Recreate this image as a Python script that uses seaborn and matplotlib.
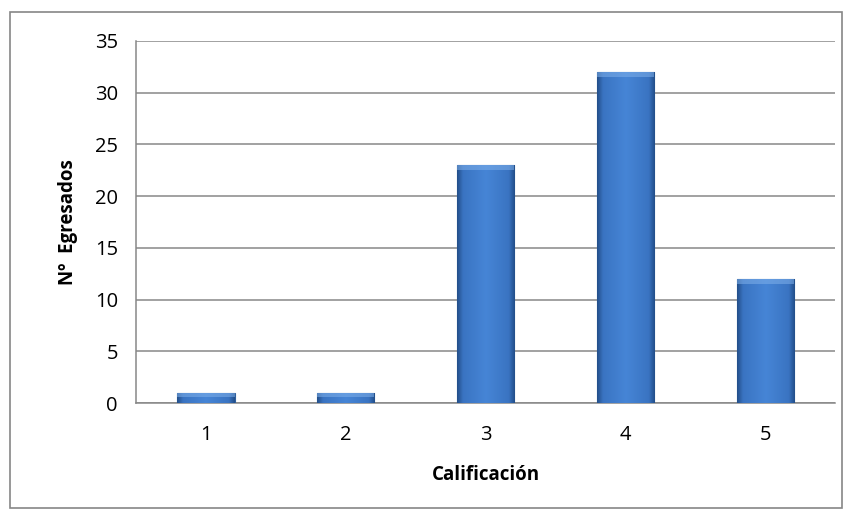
import numpy as np
import matplotlib
matplotlib.use('Agg')
import matplotlib.pyplot as plt
import matplotlib.patches as mpatches
import pandas as pd
import seaborn as sns

# datos del grafico
calificacion = ['1', '2', '3', '4', '5']
egresados = [1, 1, 23, 32, 12]

df = pd.DataFrame({'Calificación': calificacion, 'Egresados': egresados})

sns.set_style('white')
plt.rcParams['font.family'] = ['Open Sans', 'DejaVu Sans']
plt.rcParams['text.color'] = 'black'
plt.rcParams['axes.labelcolor'] = 'black'
plt.rcParams['xtick.labelcolor'] = 'black'
plt.rcParams['ytick.labelcolor'] = 'black'

fig = plt.figure(figsize=(8.53, 5.18), dpi=100)
ax = fig.add_axes([0.1594, 0.222, 0.8196, 0.699])

sns.barplot(data=df, x='Calificación', y='Egresados', color='#4281d3',
            width=0.41, edgecolor='#2f5f9c', linewidth=0.8, ax=ax, zorder=3)

# degradado tipo bisel en cada barra
grad = np.linspace(0, 1, 64)[np.newaxis, :]
cmap = matplotlib.colors.LinearSegmentedColormap.from_list(
    'bev', [(0, '#23508c'), (0.1, '#3a74c2'), (0.5, '#4685d6'),
            (0.9, '#3a74c2'), (1, '#23508c')])
for p in list(ax.patches):
    x0, y0 = p.get_x(), p.get_y()
    w, h = p.get_width(), p.get_height()
    im = ax.imshow(grad, cmap=cmap, aspect='auto',
                   extent=(x0, x0 + w, y0, y0 + h), zorder=3.5)
    im.set_clip_path(p)
    top = mpatches.Rectangle((x0, y0 + h), w, -min(0.5, h * 0.4),
                             facecolor='#7fb0ea', edgecolor='none', alpha=0.55,
                             zorder=3.6)
    ax.add_patch(top)

ax.set_xlim(-0.5, 4.5)
ax.set_ylim(0, 35)
ax.set_yticks(range(0, 36, 5))
ax.grid(axis='y', color='#878787', linewidth=1.1, zorder=0)
ax.set_axisbelow(True)

for s in ['top', 'right']:
    ax.spines[s].set_visible(False)
for s in ['left', 'bottom']:
    ax.spines[s].set_color('#878787')
    ax.spines[s].set_linewidth(1.1)

ax.set_xticks(np.arange(-0.5, 5, 1), minor=True)
ax.tick_params(axis='x', which='major', length=0, labelsize=14.5, pad=16)
ax.tick_params(axis='x', which='minor', length=7, color='#878787', width=1.1)
ax.tick_params(axis='y', length=7, color='#878787', width=1.1, labelsize=14.5, pad=6)

ax.set_xlabel('Calificación', fontsize=13.5, fontweight='bold', labelpad=14)
ax.set_ylabel('Nº  Egresados', fontsize=13.5, fontweight='bold', labelpad=12)

# borde exterior del grafico
fig.patches.append(mpatches.Rectangle((10 / 853, 10 / 518), 832 / 853, 496 / 518,
                                      transform=fig.transFigure, fill=False,
                                      edgecolor='#868686', linewidth=1.2))

fig.savefig('out.png', dpi=100)
